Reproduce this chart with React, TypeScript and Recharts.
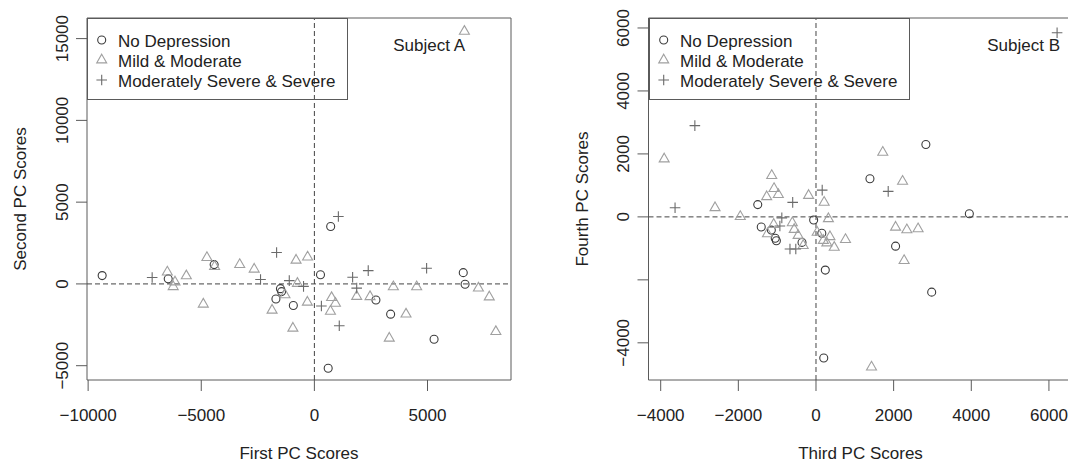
import React from "react";
import { ScatterChart, Scatter, XAxis, YAxis, ReferenceLine, ReferenceArea, Legend } from "recharts";

// Subject A: first vs second PC scores
const noDepressionA = [
  { x: -9380, y: 510 }, { x: -6460, y: 310 }, { x: -4430, y: 1180 }, { x: -1500, y: -290 },
  { x: -1450, y: -470 }, { x: -1700, y: -920 }, { x: -930, y: -1320 }, { x: 270, y: 560 },
  { x: 720, y: 3510 }, { x: 2720, y: -980 }, { x: 3370, y: -1850 }, { x: 5290, y: -3380 },
  { x: 6580, y: 690 }, { x: 6660, y: -20 }, { x: 610, y: -5160 },
];
const mildModerateA = [
  { x: -6500, y: 720 }, { x: -6160, y: 120 }, { x: -6240, y: -170 }, { x: -5660, y: 490 },
  { x: -4750, y: 1610 }, { x: -4410, y: 1060 }, { x: -4910, y: -1240 }, { x: -3300, y: 1180 },
  { x: -2660, y: 900 }, { x: -810, y: 1450 }, { x: -300, y: 1640 }, { x: -1300, y: -670 },
  { x: -1870, y: -1610 }, { x: -750, y: 30 }, { x: -310, y: -1120 }, { x: -950, y: -2710 },
  { x: 760, y: -840 }, { x: 930, y: -1190 }, { x: 710, y: -1680 }, { x: 1870, y: -770 },
  { x: 2460, y: -780 }, { x: 3490, y: -180 }, { x: 4520, y: -180 }, { x: 7250, y: -260 },
  { x: 7730, y: -800 }, { x: 4050, y: -1850 }, { x: 3310, y: -3320 }, { x: 8020, y: -2920 },
  { x: 6630, y: 15440 },
];
const severeA = [
  { x: -7170, y: 390 }, { x: -2380, y: 270 }, { x: -1670, y: 1920 }, { x: -1110, y: 200 },
  { x: -480, y: -150 }, { x: 1060, y: 4120 }, { x: 1690, y: 410 }, { x: 2380, y: 810 },
  { x: 1870, y: -260 }, { x: 310, y: -1350 }, { x: 1100, y: -2560 }, { x: 4960, y: 960 },
];

// Subject B: third vs fourth PC scores
const noDepressionB = [
  { x: -1500, y: 390 }, { x: -60, y: -100 }, { x: -1410, y: -320 }, { x: -1150, y: -420 },
  { x: -1050, y: -680 }, { x: -1020, y: -760 }, { x: -360, y: -810 }, { x: 150, y: -520 },
  { x: 2830, y: 2300 }, { x: 1390, y: 1210 }, { x: 3950, y: 100 }, { x: 2050, y: -930 },
  { x: 240, y: -1690 }, { x: 2980, y: -2390 }, { x: 200, y: -4480 },
];
const mildModerateB = [
  { x: -3910, y: 1840 }, { x: -2600, y: 290 }, { x: -1950, y: 10 }, { x: -1140, y: 1310 },
  { x: -1080, y: 900 }, { x: -1270, y: 640 }, { x: -970, y: 710 }, { x: -190, y: 680 },
  { x: 210, y: 460 }, { x: 320, y: -60 }, { x: -1090, y: -240 }, { x: -1250, y: -540 },
  { x: -610, y: -190 }, { x: -560, y: -400 }, { x: -460, y: -590 }, { x: -330, y: -910 },
  { x: 30, y: -490 }, { x: 360, y: -630 }, { x: 190, y: -750 }, { x: 280, y: -830 },
  { x: 470, y: -970 }, { x: 760, y: -720 }, { x: 1720, y: 2050 }, { x: 2230, y: 1130 },
  { x: 2050, y: -330 }, { x: 2340, y: -410 }, { x: 2630, y: -380 }, { x: 2270, y: -1390 },
  { x: 1430, y: -4770 },
];
const severeB = [
  { x: -3120, y: 2900 }, { x: -3630, y: 290 }, { x: -600, y: 460 }, { x: 160, y: 850 },
  { x: -880, y: -30 }, { x: -930, y: -290 }, { x: -670, y: -1020 }, { x: -520, y: -1020 },
  { x: 1860, y: 810 }, { x: 6210, y: 5850 },
];

const ticksA_x = [-10000, -5000, 0, 5000];
const ticksA_y = [-5000, 0, 5000, 10000, 15000];
const ticksB_x = [-4000, -2000, 0, 2000, 4000, 6000];
const ticksB_y = [-4000, -2000, 0, 2000, 4000, 6000];
// R drops the -2000 label on the Fourth PC axis (overlap), tick stays
const unlabeledB_y = [-2000];

const legendLabels = ["No Depression", "Mild & Moderate", "Moderately Severe & Severe"];

const FONT = "'Liberation Sans', Arial, sans-serif";
const TEXT = "#222";
const LINE = "#5a5a5a";
const C_NO = "#3c3c3c";
const C_MILD = "#a0a0a0";
const C_SEV = "#6a6a6a";

const CircleMark = (p: any) => (
  <circle cx={p.cx} cy={p.cy} r={4} fill="none" stroke={C_NO} strokeWidth={1.1} />
);
const TriangleMark = (p: any) => (
  <polygon
    points={`${p.cx},${p.cy - 5.8} ${p.cx + 5},${p.cy + 2.9} ${p.cx - 5},${p.cy + 2.9}`}
    fill="none"
    stroke={C_MILD}
    strokeWidth={1.1}
  />
);
const PlusMark = (p: any) => (
  <path
    d={`M${p.cx - 5.3},${p.cy}H${p.cx + 5.3}M${p.cx},${p.cy - 5.3}V${p.cy + 5.3}`}
    stroke={C_SEV}
    strokeWidth={1.1}
  />
);

const fmt = (v: number) => (v < 0 ? "\u2212" + Math.abs(v) : String(v));

const XTick = (p: any) => (
  <text x={p.x} y={p.y + 28} textAnchor="middle" fontSize={17} fill={TEXT} fontFamily={FONT}>
    {fmt(p.payload.value)}
  </text>
);

const YTick = (p: any) => {
  if (p.hidden && p.hidden.includes(p.payload.value)) return <g />;
  const bx = p.x - 6;
  return (
    <text
      x={bx}
      y={p.y}
      transform={`rotate(-90 ${bx} ${p.y})`}
      textAnchor="middle"
      fontSize={17}
      fill={TEXT}
      fontFamily={FONT}
    >
      {fmt(p.payload.value)}
    </text>
  );
};

const LegendBox = () => (
  <svg width={262} height={82} style={{ display: "block", overflow: "visible" }}>
    <rect x={0.5} y={0.5} width={260} height={81} fill="none" stroke={LINE} />
    {CircleMark({ cx: 14.7, cy: 22 })}
    {TriangleMark({ cx: 14.7, cy: 42 })}
    {PlusMark({ cx: 14.7, cy: 62 })}
    {legendLabels.map((t, i) => (
      <text key={t} x={31} y={28.5 + i * 20} fontSize={17} fill={TEXT} fontFamily={FONT}>
        {t}
      </text>
    ))}
  </svg>
);

type Pt = { x: number; y: number };
type PanelProps = {
  left: number;
  yAxisW: number;
  rightMargin: number;
  xDomain: [number, number];
  yDomain: [number, number];
  xTicks: number[];
  yTicks: number[];
  hiddenY?: number[];
  xTitle: string;
  yTitle: string;
  noDep: Pt[];
  mild: Pt[];
  severe: Pt[];
};

const PANEL_W = 540;
const PANEL_H = 463;
const TOP = 18;
const XAXIS_H = 83;

const Panel = (props: PanelProps) => {
  const plotLeft = props.yAxisW;
  const plotRight = PANEL_W - props.rightMargin;
  const plotMidY = (TOP + (PANEL_H - XAXIS_H)) / 2;
  const yTitleX = plotLeft - 61;
  return (
    <div style={{ position: "absolute", left: props.left, top: 0 }}>
      <ScatterChart
        width={PANEL_W}
        height={PANEL_H}
        margin={{ top: TOP, right: props.rightMargin, bottom: 0, left: 0 }}
      >
        <XAxis
          type="number"
          dataKey="x"
          domain={props.xDomain}
          allowDataOverflow
          ticks={props.xTicks}
          interval={0}
          height={XAXIS_H}
          axisLine={false}
          tickSize={11}
          tickLine={{ stroke: LINE }}
          tick={<XTick />}
        />
        <YAxis
          type="number"
          dataKey="y"
          domain={props.yDomain}
          allowDataOverflow
          ticks={props.yTicks}
          interval={0}
          width={props.yAxisW}
          axisLine={false}
          tickSize={11}
          tickLine={{ stroke: LINE }}
          tick={<YTick hidden={props.hiddenY || []} />}
        />
        <ReferenceArea
          x1={props.xDomain[0]}
          x2={props.xDomain[1]}
          y1={props.yDomain[0]}
          y2={props.yDomain[1]}
          fill="none"
          stroke={LINE}
          strokeWidth={1}
          ifOverflow="visible"
        />
        <ReferenceLine x={0} stroke="#444" strokeDasharray="5 3" />
        <ReferenceLine y={0} stroke="#444" strokeDasharray="5 3" />
        <Scatter name={legendLabels[0]} data={props.noDep} shape={CircleMark} isAnimationActive={false} />
        <Scatter name={legendLabels[1]} data={props.mild} shape={TriangleMark} isAnimationActive={false} />
        <Scatter name={legendLabels[2]} data={props.severe} shape={PlusMark} isAnimationActive={false} />
        <Legend
          layout="horizontal"
          verticalAlign="middle"
          align="center"
          content={() => <LegendBox />}
          wrapperStyle={{ position: "absolute", left: plotLeft, top: TOP, right: "auto", bottom: "auto", width: 262, height: 82 }}
        />
      </ScatterChart>
      <svg
        width={PANEL_W}
        height={PANEL_H}
        style={{ position: "absolute", left: 0, top: 0, pointerEvents: "none" }}
      >
        <text
          x={(plotLeft + plotRight) / 2}
          y={459}
          textAnchor="middle"
          fontSize={17}
          fill={TEXT}
          fontFamily={FONT}
        >
          {props.xTitle}
        </text>
        <text
          x={yTitleX}
          y={plotMidY}
          transform={`rotate(-90 ${yTitleX} ${plotMidY})`}
          textAnchor="middle"
          fontSize={17}
          fill={TEXT}
          fontFamily={FONT}
        >
          {props.yTitle}
        </text>
      </svg>
    </div>
  );
};

export default function App() {
  return (
    <div
      style={{
        position: "absolute",
        left: 0,
        top: 0,
        width: 1068,
        height: 463,
        overflow: "hidden",
        background: "#fff",
      }}
    >
      <Panel
        left={0}
        yAxisW={87}
        rightMargin={29}
        xDomain={[-10050, 8690]}
        yDomain={[-5875, 16260]}
        xTicks={ticksA_x}
        yTicks={ticksA_y}
        xTitle="First PC Scores"
        yTitle="Second PC Scores"
        noDep={noDepressionA}
        mild={mildModerateA}
        severe={severeA}
      />
      <Panel
        left={561}
        yAxisW={87.5}
        rightMargin={28.5}
        xDomain={[-4314, 6607]}
        yDomain={[-5181, 6317]}
        xTicks={ticksB_x}
        yTicks={ticksB_y}
        hiddenY={unlabeledB_y}
        xTitle="Third PC Scores"
        yTitle="Fourth PC Scores"
        noDep={noDepressionB}
        mild={mildModerateB}
        severe={severeB}
      />
      <svg width={1068} height={463} style={{ position: "absolute", left: 0, top: 0, pointerEvents: "none" }}>
        <text x={465} y={51} textAnchor="end" fontSize={17} fill={TEXT} fontFamily={FONT}>
          Subject A
        </text>
        <text x={1060} y={51} textAnchor="end" fontSize={17} fill={TEXT} fontFamily={FONT}>
          Subject B
        </text>
      </svg>
    </div>
  );
}
